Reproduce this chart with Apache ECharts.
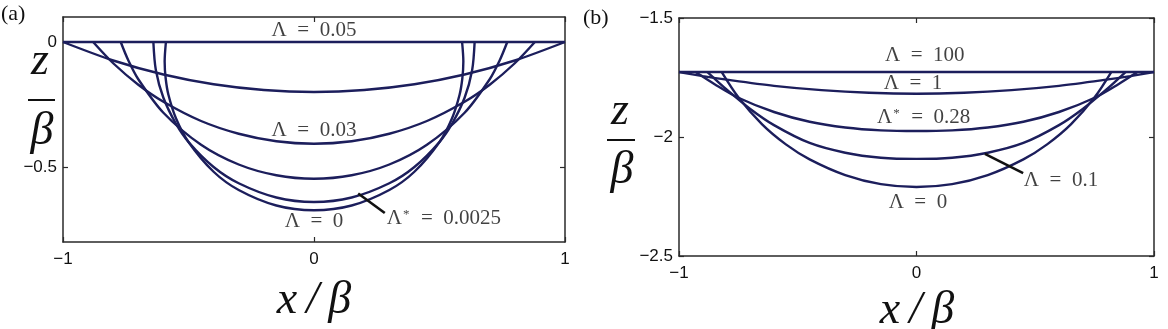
<!DOCTYPE html>
<html><head><meta charset="utf-8">
<script src="https://cdn.jsdelivr.net/npm/echarts@6/dist/echarts.min.js"></script>
<style>html,body{margin:0;padding:0;background:#fff}#c{width:1168px;height:329px}</style>
</head><body><div id="c"></div>
<script>
// ---------- Panel (a) curves: [x/beta, z/beta] ----------
const aFlat005 = [[-1,0],[1,0]];
const aCurve1 = [[-1,0],[-0.8,-0.074],[-0.6,-0.13],[-0.4,-0.169],[-0.2,-0.192],[0,-0.2],[0.2,-0.192],[0.4,-0.169],[0.6,-0.13],[0.8,-0.074],[1,0]];
const aCurve003 = [[-0.88,0],[-0.8,-0.085],[-0.7,-0.171],[-0.6,-0.239],[-0.45,-0.316],[-0.3,-0.367],[-0.15,-0.397],[0,-0.407],[0.15,-0.397],[0.3,-0.367],[0.45,-0.316],[0.6,-0.239],[0.7,-0.171],[0.8,-0.085],[0.88,0]];
const aCurve3 = [[-0.77,0],[-0.74,-0.073],[-0.7,-0.149],[-0.6,-0.283],[-0.45,-0.411],[-0.3,-0.49],[-0.15,-0.533],[0,-0.547],[0.15,-0.533],[0.3,-0.49],[0.45,-0.411],[0.6,-0.283],[0.7,-0.149],[0.74,-0.073],[0.77,0]];
const aCurveStar = [[-0.64,0],[-0.63,-0.113],[-0.6,-0.223],[-0.55,-0.327],[-0.5,-0.4],[-0.4,-0.5],[-0.3,-0.565],[-0.15,-0.622],[0,-0.64],[0.15,-0.622],[0.3,-0.565],[0.4,-0.5],[0.5,-0.4],[0.55,-0.327],[0.6,-0.223],[0.63,-0.113],[0.64,0]];
const aCurve0 = [[-0.59,0],[-0.595,-0.078],[-0.591,-0.145],[-0.58,-0.211],[-0.55,-0.305],[-0.5,-0.4],[-0.4,-0.519],[-0.3,-0.592],[-0.15,-0.654],[0,-0.673],[0.15,-0.654],[0.3,-0.592],[0.4,-0.519],[0.5,-0.4],[0.55,-0.305],[0.58,-0.211],[0.591,-0.145],[0.595,-0.078],[0.59,0]];
const aLeader = [[0.176,-0.606],[0.282,-0.684]];

// ---------- Panel (b) curves ----------
const bFlat100 = [[-1,-1.727],[1,-1.727]];
const bCurve1 = [[-1,-1.727],[-0.9,-1.744],[-0.8,-1.759],[-0.6,-1.785],[-0.4,-1.803],[-0.2,-1.814],[0,-1.818],[0.2,-1.814],[0.4,-1.803],[0.6,-1.785],[0.8,-1.759],[0.9,-1.744],[1,-1.727]];
const bCurveStar = [[-0.93,-1.727],[-0.85,-1.778],[-0.75,-1.835],[-0.6,-1.895],[-0.45,-1.936],[-0.3,-1.96],[-0.15,-1.972],[0,-1.975],[0.15,-1.972],[0.3,-1.96],[0.45,-1.936],[0.6,-1.895],[0.75,-1.835],[0.85,-1.778],[0.93,-1.727]];
const bCurve01 = [[-0.88,-1.727],[-0.8,-1.8],[-0.7,-1.882],[-0.6,-1.95],[-0.45,-2.025],[-0.3,-2.066],[-0.15,-2.087],[0,-2.092],[0.15,-2.087],[0.3,-2.066],[0.45,-2.025],[0.6,-1.95],[0.7,-1.882],[0.8,-1.8],[0.88,-1.727]];
const bCurve0 = [[-0.82,-1.727],[-0.75,-1.833],[-0.65,-1.947],[-0.55,-2.031],[-0.45,-2.094],[-0.3,-2.16],[-0.15,-2.198],[0,-2.21],[0.15,-2.198],[0.3,-2.16],[0.45,-2.094],[0.55,-2.031],[0.65,-1.947],[0.75,-1.833],[0.82,-1.727]];
const bLeader = [[0.288,-2.071],[0.449,-2.152]];

// ---------- ticks ----------
const xTicks = [-1, 0, 1];
const aYTicks = [-0.5, 0];
const bYTicks = [-2.5, -2, -1.5];

// ---------- annotation texts ----------
const aLabels = [
  {pos:[0,0.047], text:'{t|Λ\u2002=\u20020.05}', align:'center'},
  {pos:[0,-0.355], text:'{t|Λ\u2002=\u20020.03}', align:'center'},
  {pos:[0,-0.718], text:'{t|Λ\u2002=\u20020}', align:'center'},
  {pos:[0.29,-0.706], text:'{t|Λ}{s|*}{t|\u2002=\u20020.0025}', align:'left'}
];
const bLabels = [
  {pos:[0.035,-1.657], text:'{t|Λ\u2002=\u2002100}', align:'center'},
  {pos:[-0.015,-1.776], text:'{t|Λ\u2002=\u20021}', align:'center'},
  {pos:[0.03,-1.917], text:'{t|Λ}{s|*}{t|\u2002=\u20020.28}', align:'center'},
  {pos:[0.452,-2.182], text:'{t|Λ\u2002=\u20020.1}', align:'left'},
  {pos:[0.006,-2.277], text:'{t|Λ\u2002=\u20020}', align:'center'}
];

const ink = '#2a2a2a', curveColor = '#1c1e5c', txt = '#111';
const fmt = v => (v < 0 ? '\u2212' + Math.abs(v) : String(v));
function xAx(g, pos, lab){
  return {type:'value', gridIndex:g, position:pos, min:-1, max:1, interval:1,
    axisLine:{show:true, onZero:false, lineStyle:{color:ink, width:1.5}},
    axisTick:{show:true, inside:true, length:5, lineStyle:{color:ink, width:1.2}, customValues:xTicks},
    axisLabel:{show:lab, formatter:fmt, fontFamily:'Liberation Sans', fontSize:17, color:txt, margin:9, customValues:xTicks},
    splitLine:{show:false}};
}
function yAx(g, pos, lab, mn, mx, ticks){
  return {type:'value', gridIndex:g, position:pos, min:mn, max:mx,
    axisLine:{show:true, onZero:false, lineStyle:{color:ink, width:1.5}},
    axisTick:{show:true, inside:true, length:5, lineStyle:{color:ink, width:1.2}, customValues:ticks},
    axisLabel:{show:lab, formatter:fmt, fontFamily:'Liberation Sans', fontSize:17, color:txt, margin:6, customValues:ticks},
    splitLine:{show:false}};
}
function curve(data, xi, yi){
  return {type:'line', data, xAxisIndex:xi, yAxisIndex:yi, symbol:'none', smooth:0.3,
    lineStyle:{color:curveColor, width:2.4}, z:3, silent:true};
}
function leader(data, xi, yi){
  return {type:'line', data, xAxisIndex:xi, yAxisIndex:yi, symbol:'none',
    lineStyle:{color:'#111', width:2.6}, z:4, silent:true};
}
const rich = {t:{fontFamily:'Liberation Serif', fontSize:21, color:txt},
              s:{fontFamily:'Liberation Serif', fontSize:13, color:txt, verticalAlign:'top', padding:[0,1,0,1]}};
function labels(list, xi, yi){
  return {type:'scatter', xAxisIndex:xi, yAxisIndex:yi, symbolSize:0, z:5, silent:true,
    data:list.map(l => ({value:l.pos, label:{show:true, position:'inside', formatter:l.text, align:l.align, verticalAlign:'middle', rich}}))};
}

const chart = echarts.init(document.getElementById('c'), null, {renderer:'canvas'});
chart.setOption({
  animation:false,
  grid:[
    {left:63, top:17, width:502, height:225, show:false},
    {left:679, top:18, width:475, height:238, show:false}
  ],
  xAxis:[xAx(0,'bottom',true), xAx(0,'top',false), xAx(1,'bottom',true), xAx(1,'top',false)],
  yAxis:[yAx(0,'left',true,-0.8,0.1,aYTicks), yAx(0,'right',false,-0.8,0.1,aYTicks),
         yAx(1,'left',true,-2.5,-1.5,bYTicks), yAx(1,'right',false,-2.5,-1.5,bYTicks)],
  series:[
    curve(aFlat005,0,0), curve(aCurve1,0,0), curve(aCurve003,0,0), curve(aCurve3,0,0), curve(aCurveStar,0,0), curve(aCurve0,0,0),
    leader(aLeader,0,0), labels(aLabels,0,0),
    curve(bFlat100,2,2), curve(bCurve1,2,2), curve(bCurveStar,2,2), curve(bCurve01,2,2), curve(bCurve0,2,2),
    leader(bLeader,2,2), labels(bLabels,2,2)
  ],
  graphic:[
    {type:'text', left:1, top:3, style:{text:'(a)', font:'22px "Liberation Serif"', fill:txt}},
    {type:'text', left:583, top:7, style:{text:'(b)', font:'22px "Liberation Serif"', fill:txt}},
    {type:'text', x:314, y:301, style:{text:'x\u2009/\u2009β', font:'italic 46px "Liberation Serif"', fill:txt, align:'center', verticalAlign:'middle'}},
    {type:'text', x:917, y:311, style:{text:'x\u2009/\u2009β', font:'italic 46px "Liberation Serif"', fill:txt, align:'center', verticalAlign:'middle'}},
    {type:'text', x:40, y:62, style:{text:'z', font:'italic 46px "Liberation Serif"', fill:txt, align:'center', verticalAlign:'middle'}},
    {type:'line', shape:{x1:28, y1:100, x2:55, y2:100}, style:{stroke:txt, lineWidth:2}},
    {type:'text', x:42, y:132, style:{text:'β', font:'italic 46px "Liberation Serif"', fill:txt, align:'center', verticalAlign:'middle'}},
    {type:'text', x:620, y:112, style:{text:'z', font:'italic 46px "Liberation Serif"', fill:txt, align:'center', verticalAlign:'middle'}},
    {type:'line', shape:{x1:607, y1:140, x2:635, y2:140}, style:{stroke:txt, lineWidth:2}},
    {type:'text', x:622, y:171, style:{text:'β', font:'italic 46px "Liberation Serif"', fill:txt, align:'center', verticalAlign:'middle'}}
  ]
});
</script></body></html>
